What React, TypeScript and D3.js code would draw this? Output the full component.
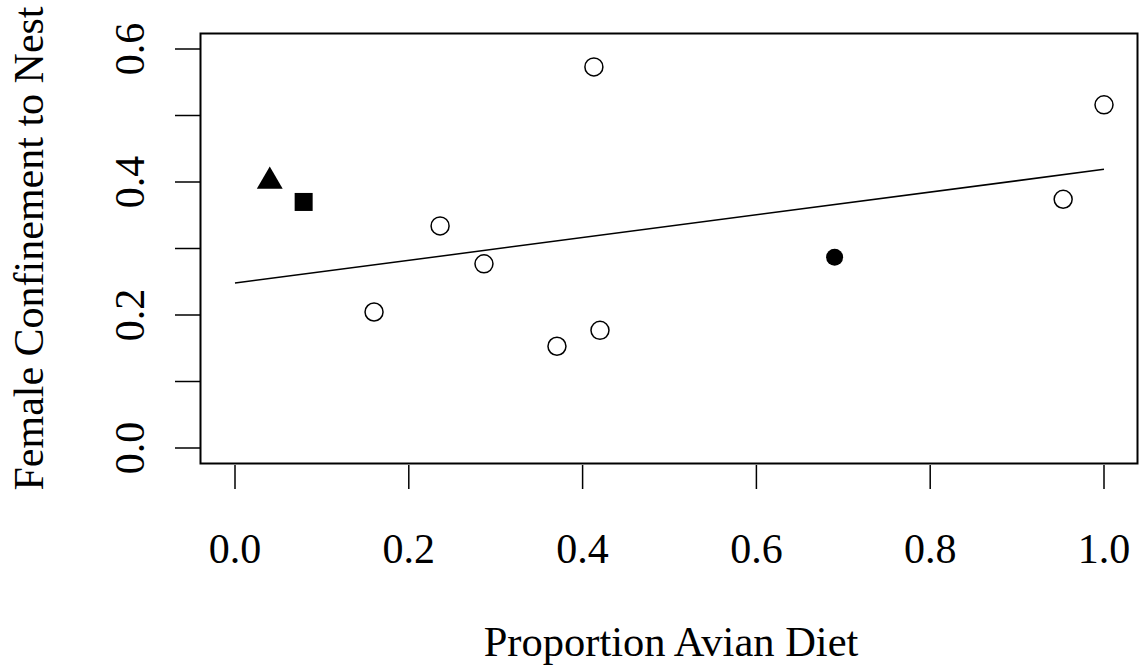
import React from "react";
import * as d3 from "d3";

const xs = [0.040, 0.079, 0.160, 0.236, 0.2865, 0.3705, 0.413, 0.420, 0.690, 0.953, 1.0];
const ys = [0.401, 0.370, 0.2045, 0.334, 0.277, 0.153, 0.573, 0.177, 0.287, 0.374, 0.516];
const shapes = ["triangle", "square", "open", "open", "open", "open", "open", "open", "filled", "open", "open"];
const fitX = [0.0, 1.0];
const fitY = [0.248, 0.419];
const xTicks = [0, 0.2, 0.4, 0.6, 0.8, 1.0];
const yTicks = [0, 0.1, 0.2, 0.3, 0.4, 0.5, 0.6];
const yLabels = [0, 0.2, 0.4, 0.6];

const W = 1139, H = 667;
const FONT = "'Liberation Serif', 'Times New Roman', serif";

export default function App() {
  const x = d3.scaleLinear().domain([0, 1]).range([235, 1104]);
  const y = d3.scaleLinear().domain([0, 0.6]).range([448, 49]);
  const box = { l: 200.5, t: 33.5, r: 1137.5, b: 463.5 };
  const line = d3.line<number>().x((d, i) => x(fitX[i])).y((d) => y(d));
  const tri = d3.symbol().type(d3.symbolTriangle).size(290)();
  return (
    <svg width={W} height={H} style={{ position: "absolute", left: 0, top: 0, background: "#fff" }}>
      <rect x={box.l} y={box.t} width={box.r - box.l} height={box.b - box.t} fill="none" stroke="#000" strokeWidth={2} />
      {xTicks.map((t) => (
        <g key={"x" + t}>
          <line x1={x(t)} x2={x(t)} y1={465} y2={489} stroke="#000" strokeWidth={1.5} />
          <text x={x(t)} y={563} fontFamily={FONT} fontSize={42} textAnchor="middle">{t.toFixed(1)}</text>
        </g>
      ))}
      {yTicks.map((t) => (
        <line key={"y" + t} x1={175} x2={200} y1={y(t)} y2={y(t)} stroke="#000" strokeWidth={1.5} />
      ))}
      {yLabels.map((t) => (
        <text key={"yl" + t} transform={`translate(144,${y(t)}) rotate(-90)`} fontFamily={FONT} fontSize={42} textAnchor="middle">{t.toFixed(1)}</text>
      ))}
      <text x={(box.l + box.r) / 2 + 2} y={656} fontFamily={FONT} fontSize={42.5} textAnchor="middle">Proportion Avian Diet</text>
      <text transform={`translate(43,248.5) rotate(-90)`} fontFamily={FONT} fontSize={42} textAnchor="middle">Female Confinement to Nest</text>
      <path d={line(fitY) || ""} fill="none" stroke="#000" strokeWidth={1.5} />
      {xs.map((v, i) => {
        const cx = x(v), cy = y(ys[i]);
        const s = shapes[i];
        if (s === "triangle") return <path key={i} d={tri || ""} transform={`translate(${cx},${cy})`} fill="#000" />;
        if (s === "square") return <rect key={i} x={cx - 9} y={cy - 9} width={18} height={18} fill="#000" />;
        if (s === "filled") return <circle key={i} cx={cx} cy={cy} r={8.5} fill="#000" />;
        return <circle key={i} cx={cx} cy={cy} r={9} fill="#fff" stroke="#000" strokeWidth={1.5} />;
      })}
    </svg>
  );
}
